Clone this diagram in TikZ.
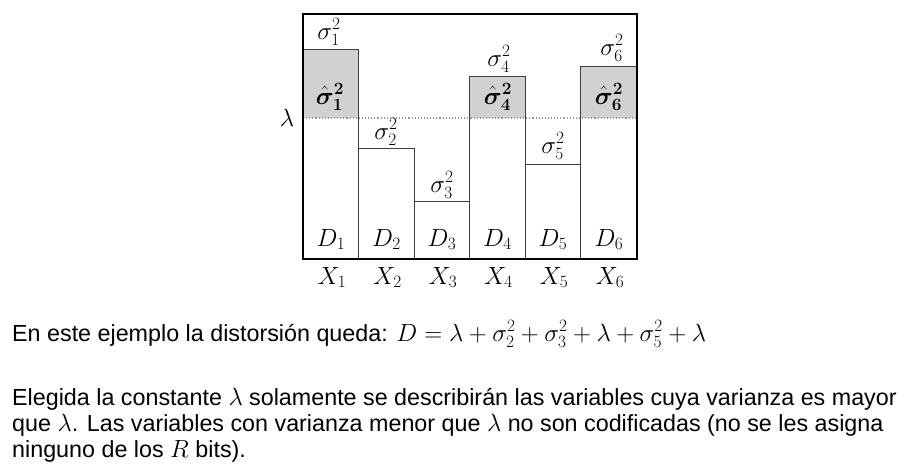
\documentclass[tikz,border=0pt]{standalone}
\usepackage{amsmath,bm}
\usepackage{fontspec}
\setmainfont{Liberation Sans}
\begin{document}
\begin{tikzpicture}[x=1pt,y=-1pt,
  bar/.style={draw=black!75,line width=0.9pt},
  hi/.style={fill=black!18},
  lab/.style={font=\fontsize{23}{26}\selectfont,inner sep=0pt,anchor=base},
  big/.style={font=\fontsize{26.5}{30}\selectfont,inner sep=0pt,anchor=base},
  txt/.style={font=\fontsize{23.3}{26}\selectfont,anchor=base west,inner sep=0pt}]
\useasboundingbox (0,0) rectangle (912,471);
% shaded parts
\fill[hi] (303,49) rectangle (358.5,118);
\fill[hi] (469.5,76) rectangle (525,118);
\fill[hi] (580.5,66) rectangle (637,118);
% bars
\draw[bar] (303,49) -- (358.5,49) -- (358.5,259);
\draw[bar] (358.5,148) -- (414,148) -- (414,259);
\draw[bar] (414,201) -- (469.5,201);
\draw[bar] (469.5,259) -- (469.5,76) -- (525,76) -- (525,118);
\draw[bar] (525,259) -- (525,164) -- (580.5,164) -- (580.5,259);
\draw[bar] (580.5,118) -- (580.5,66) -- (637,66);
\draw[bar] (525,118) -- (525,164);
\draw[bar] (580.5,118) -- (580.5,164);
% lambda line
\draw[black!40,dotted,line width=1.1pt] (303,118) -- (637,118);
% frame
\draw[black,line width=1.5pt] (303,14) rectangle (637,259);
\node[big,anchor=center] (lam) at (287,118) {$\lambda$};
% labels
\node[lab] (s1) at (329,39) {$\sigma_1^2$};
\node[lab] (h1) at (330,104) {$\boldsymbol{\hat{\sigma}_1^2}$};
\node[lab] (s2) at (386,139) {$\sigma_2^2$};
\node[lab] (s3) at (442,192) {$\sigma_3^2$};
\node[lab] (s4) at (499,66) {$\sigma_4^2$};
\node[lab] (h4) at (498,104) {$\boldsymbol{\hat{\sigma}_4^2}$};
\node[lab] (s5) at (553,153) {$\sigma_5^2$};
\node[lab] (s6) at (612,55) {$\sigma_6^2$};
\node[lab] (h6) at (609,104) {$\boldsymbol{\hat{\sigma}_6^2}$};
\foreach \i/\x in {1/331,2/386.5,3/442,4/497.5,5/553,6/609}{
  \node[big] (d\i) at (\x,246) {$D_{\i}$};
  \node[big] (x\i) at (\x+1,284) {$X_{\i}$};
}
% text
\node[txt] (t1) at (12,341) {En este ejemplo la distorsión queda: \fontsize{24}{26}\selectfont$D=\lambda+\sigma_2^2+\sigma_3^2+\lambda+\sigma_5^2+\lambda$};
\node[txt] (t2) at (12,405.5) {Elegida la constante $\lambda$ solamente se describirán las variables cuya varianza es mayor};
\node[txt] (t3) at (12,431.5) {que $\lambda$. Las variables con varianza menor que $\lambda$ no son codificadas (no se les asigna};
\node[txt] (t4) at (12,457) {ninguno de los $R$ bits).};
\end{tikzpicture}
\end{document}
